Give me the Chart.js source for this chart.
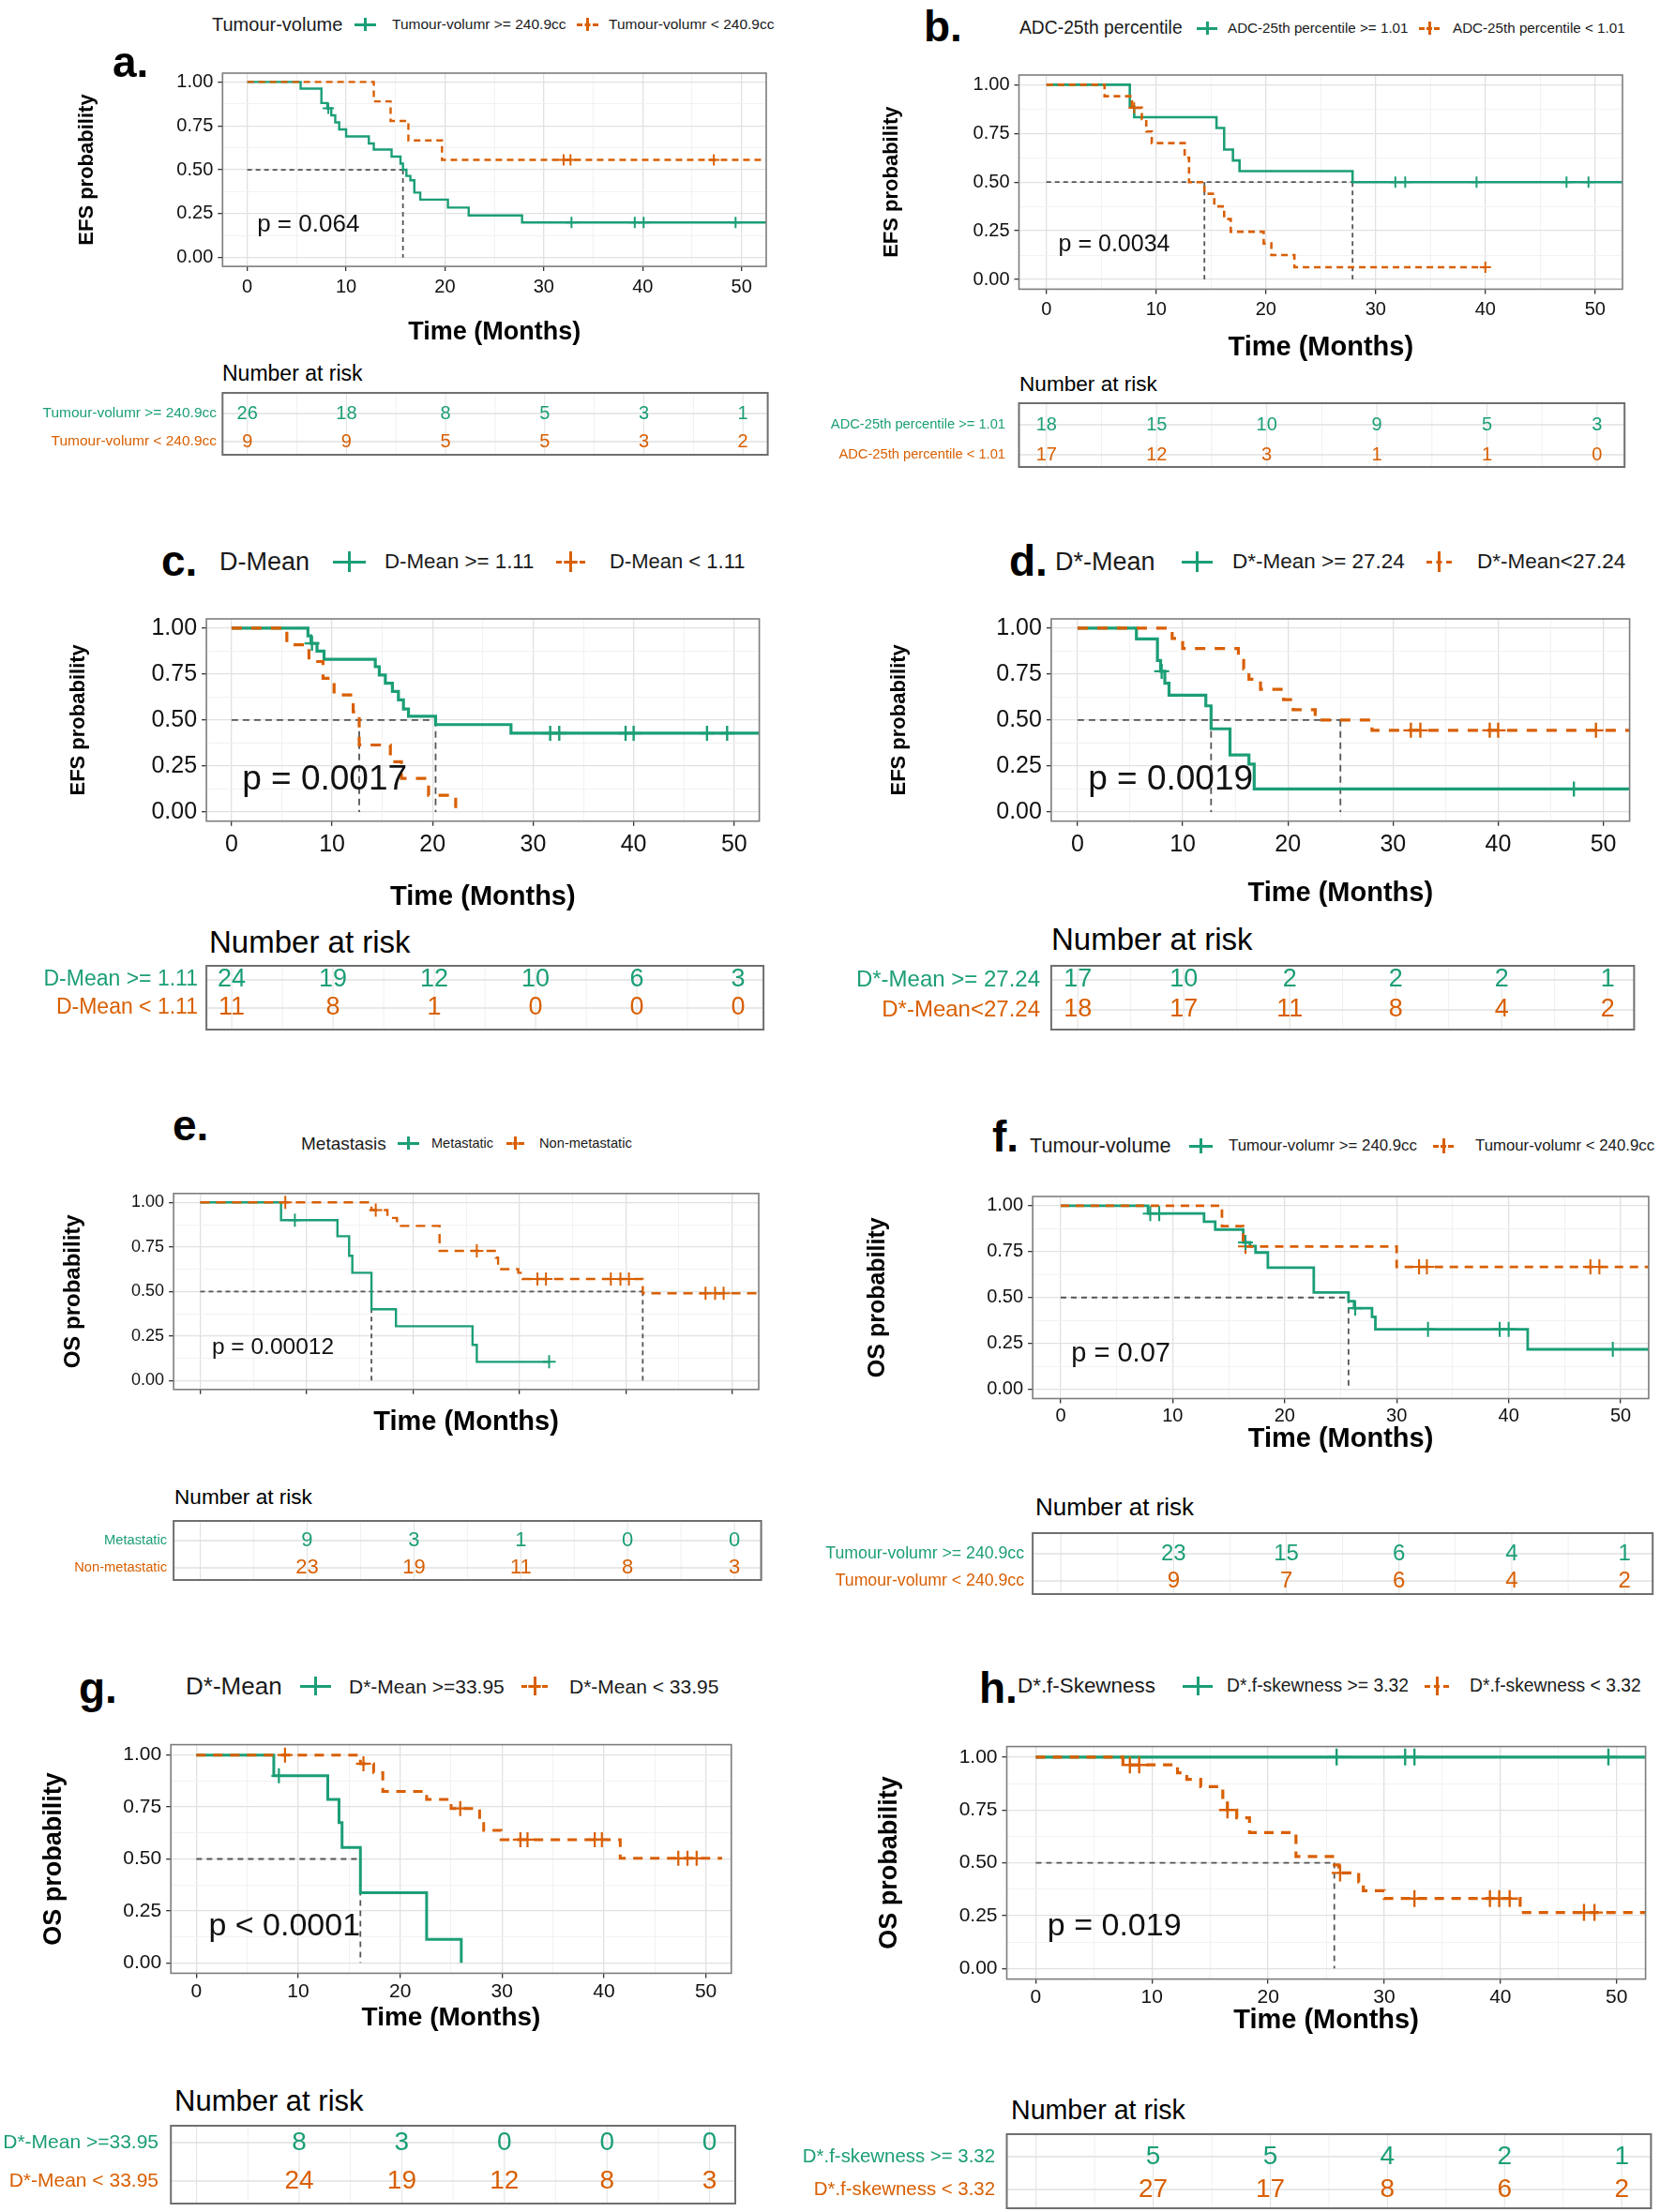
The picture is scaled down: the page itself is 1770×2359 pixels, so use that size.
<!DOCTYPE html>
<html><head><meta charset="utf-8"><title>Kaplan-Meier panels</title>
<script src="https://cdn.jsdelivr.net/npm/chart.js@4.4.1/dist/chart.umd.min.js"></script>
<style>
html,body{margin:0;padding:0;background:#fff}
#page{position:relative;width:1770px;height:2359px;overflow:hidden;background:#fff}
canvas{position:absolute;display:block}
</style></head><body><div id="page"></div>
<script>
// ---------------- DATA ----------------
const xAxisTicks = [0,5,10,15,20,25,30,35,40,45,50];
const xAxisLabelled = [0,10,20,30,40,50];
const yAxisTicks = [0,0.125,0.25,0.375,0.5,0.625,0.75,0.875,1];
const riskTimesAD = [0,10,20,30,40,50];
const riskTimesEH = [10,20,30,40,50];

// a
const aGreenTimes = [5.4,7.5,8.1,8.5,8.9,9.3,10.0,12.3,12.8,14.6,15.5,15.75,16.1,16.5,16.9,17.5,20.3,22.4,27.8];
const aGreenSurv  = [0.962,0.88,0.85,0.81,0.77,0.73,0.69,0.65,0.615,0.575,0.535,0.5,0.465,0.44,0.37,0.33,0.285,0.24,0.2];
const aGreenCensor = [8.2,32.8,39.2,40.1,49.4];
const aOrangeTimes = [12.8,14.5,16.3,19.7];
const aOrangeSurv  = [0.889,0.778,0.667,0.556];
const aOrangeCensor = [32.0,32.7,47.2];
const aLastFollowUp = [53,53];
const aMedians = [15.75];
const aRiskGreen = [26,18,8,5,3,1];
const aRiskOrange = [9,9,5,5,3,2];

// b
const bGreenTimes = [7.6,8.0,15.5,16.2,17.0,17.6,27.9];
const bGreenSurv  = [0.889,0.833,0.778,0.667,0.611,0.556,0.5];
const bGreenCensor = [31.8,32.7,39.2,47.4,49.4];
const bOrangeTimes = [5.3,7.8,8.7,9.1,9.6,12.6,13.0,14.4,15.3,16.2,16.8,19.8,20.5,22.6];
const bOrangeSurv  = [0.941,0.882,0.824,0.76,0.70,0.625,0.5,0.44,0.375,0.31,0.245,0.185,0.125,0.0625];
const bOrangeCensor = [8.0,40.0];
const bLastFollowUp = [53,40.0];
const bMedians = [14.4,27.9];
const bRiskGreen = [18,15,10,9,5,3];
const bRiskOrange = [17,12,3,1,1,0];

// c
const cGreenTimes = [7.6,7.9,8.5,9.2,14.3,14.7,15.3,16.0,16.6,17.1,17.6,20.3,27.8];
const cGreenSurv  = [0.958,0.917,0.875,0.83,0.79,0.745,0.70,0.655,0.61,0.56,0.52,0.475,0.428];
const cGreenCensor = [8.0,31.7,32.6,39.2,40.0,47.3,49.3];
const cOrangeTimes = [5.5,7.7,9.1,10.2,12.1,12.7,15.8,16.9,19.6,22.3];
const cOrangeSurv  = [0.909,0.818,0.727,0.636,0.545,0.364,0.273,0.182,0.091,0];
const cOrangeCensor = [];
const cLastFollowUp = [53,22.3];
const cMedians = [12.7,20.3];
const cRiskGreen = [24,19,12,10,6,3];
const cRiskOrange = [11,8,1,0,0,0];

// d
const dGreenTimes = [5.6,7.6,7.9,8.3,8.7,12.2,12.7,14.5,16.3,16.8];
const dGreenSurv  = [0.941,0.824,0.765,0.70,0.635,0.577,0.452,0.31,0.26,0.125];
const dGreenCensor = [8.0,47.2];
const dOrangeTimes = [9.0,10.0,15.3,15.8,16.3,17.4,19.6,20.5,22.6,28.0];
const dOrangeSurv  = [0.944,0.889,0.833,0.778,0.722,0.667,0.611,0.556,0.5,0.444];
const dOrangeCensor = [31.7,32.6,39.2,40.0,49.3];
const dLastFollowUp = [53,53];
const dMedians = [12.7,25.0];
const dRiskGreen = [17,10,2,2,2,1];
const dRiskOrange = [18,17,11,8,4,2];

// e
const eGreenTimes = [7.6,12.9,14.0,14.3,16.1,18.4,25.6,26.0];
const eGreenSurv  = [0.9,0.81,0.70,0.605,0.40,0.305,0.20,0.105];
const eGreenCensor = [8.9,32.8];
const eOrangeTimes = [16.1,17.6,18.5,22.5,27.8,28.0,29.9,30.3,41.6];
const eOrangeSurv  = [0.957,0.913,0.868,0.728,0.69,0.625,0.605,0.57,0.49];
const eOrangeCensor = [8.0,16.5,26.0,31.7,32.5,38.6,39.5,40.3,47.5,48.4,49.2];
const eLastFollowUp = [32.8,53];
const eMedians = [16.1,41.6];
const eRiskGreen = [9,3,1,0,0];
const eRiskOrange = [23,19,11,8,3];

// f
const fGreenTimes = [7.8,12.8,13.8,16.3,16.9,17.4,18.5,22.6,25.7,26.2,27.8,28.1,41.7];
const fGreenSurv  = [0.957,0.913,0.87,0.80,0.78,0.745,0.663,0.527,0.48,0.442,0.395,0.327,0.218];
const fGreenCensor = [8.0,8.8,16.5,26.3,32.8,39.2,40.0,49.3];
const fOrangeTimes = [14.4,16.3,30.0];
const fOrangeSurv  = [0.889,0.778,0.667];
const fOrangeCensor = [16.5,32.0,32.7,47.3,48.1];
const fLastFollowUp = [53,53];
const fMedians = [25.7];
const fRiskGreen = [23,15,6,4,1];
const fRiskOrange = [9,7,6,4,2];

// g
const gGreenTimes = [7.6,12.9,14.0,14.3,16.1,22.6,26.0];
const gGreenSurv  = [0.9,0.787,0.675,0.555,0.338,0.113,0];
const gGreenCensor = [8.1];
const gOrangeTimes = [16.1,17.4,18.3,22.6,25.0,27.8,28.2,29.9,41.6];
const gOrangeSurv  = [0.958,0.915,0.825,0.787,0.743,0.683,0.638,0.593,0.503];
const gOrangeCensor = [8.7,16.4,25.9,31.8,32.5,39.1,39.8,47.3,48.2,49.1];
const gLastFollowUp = [26.0,51.6];
const gMedians = [16.1];
const gRiskGreen = [8,3,0,0,0];
const gRiskOrange = [24,19,12,8,3];

// h
const hGreenTimes = [];
const hGreenSurv  = [];
const hGreenCensor = [25.9,31.8,32.6,49.3];
const hOrangeTimes = [7.5,12.2,13.0,14.2,16.1,16.5,17.3,18.4,22.4,25.7,26.1,27.8,28.2,30.0,41.7];
const hOrangeSurv  = [0.963,0.926,0.895,0.86,0.79,0.75,0.713,0.643,0.53,0.49,0.452,0.41,0.368,0.331,0.265];
const hOrangeCensor = [8.1,8.9,16.5,26.2,32.6,39.1,39.9,40.8,47.2,48.1];
const hLastFollowUp = [53,53];
const hMedians = [25.7];
const hRiskGreen = [5,5,4,2,1];
const hRiskOrange = [27,17,8,6,2];

// text
const panelLetters = ['a.','b.','c.','d.','e.','f.','g.','h.'];
const legendTitles = ['Tumour-volume','ADC-25th percentile','D-Mean','D*-Mean','Metastasis','Tumour-volume','D*-Mean','D*.f-Skewness'];
const groupNames = [
  ['Tumour-volumr >= 240.9cc','Tumour-volumr < 240.9cc'],
  ['ADC-25th percentile >= 1.01','ADC-25th percentile < 1.01'],
  ['D-Mean >= 1.11','D-Mean < 1.11'],
  ['D*-Mean >= 27.24','D*-Mean<27.24'],
  ['Metastatic','Non-metastatic'],
  ['Tumour-volumr >= 240.9cc','Tumour-volumr < 240.9cc'],
  ['D*-Mean >=33.95','D*-Mean < 33.95'],
  ['D*.f-skewness >= 3.32','D*.f-skewness < 3.32']
];
const yTitles = ['EFS probability','EFS probability','EFS probability','EFS probability','OS probability','OS probability','OS probability','OS probability'];
const pValues = ['p = 0.064','p = 0.0034','p = 0.0017','p = 0.0019','p = 0.00012','p = 0.07','p < 0.0001','p = 0.019'];

// ---------------- STYLE / LAYOUT ----------------
const FONT = "'Liberation Sans', Arial, Helvetica, sans-serif";
const GREEN = '#1B9E77', ORANGE = '#D95F02';
const MAJ = '#e1e1e1', MIN = '#f0f0f0';

const LAYOUT = [
 {plot:[237.3,76.9,818.6,284.1], yTitleX:93, xTitleY:355, tickFont:20, tickPad:5, showXLabels:true, xTitleFont:27, yTitleFont:22, lw:2.4, dash:[7,5], mdash:[5,4], cr:6, pFont:26, p:[1.0,0.186],
  letter:[120,66,46], legend:{y:26,title:[226,20],g1:[378,23],i1:[418,15.5],g2:[615,23],i2:[649,15.5],gh:14},
  table:{box:[237.3,419,818.6,485],rows:[441,471],title:[237,398,23],labelRight:231,labelFont:15.5,numFont:20}},
 {plot:[1086.5,79.3,1732.2,308.4], yTitleX:951, xTitleY:371, tickFont:20, tickPad:5, showXLabels:true, xTitleFont:29, yTitleFont:22, lw:2.6, dash:[7,5], mdash:[5,4], cr:6, pFont:25, p:[1.1,0.18],
  letter:[985,28,46], legend:{y:30,title:[1087,19.3],g1:[1276,22],i1:[1309,15.2],g2:[1513,22],i2:[1549,15.2],gh:14},
  table:{box:[1086.5,430,1732.2,498],rows:[453,485],title:[1087,410,22.6],labelRight:1072,labelFont:14.7,numFont:20}},
 {plot:[220.1,655.7,814.1,875.7], yTitleX:84, xTitleY:957, tickFont:25, tickPad:5, showXLabels:true, xTitleFont:29, yTitleFont:22, lw:3.2, dash:[11,10], mdash:[7,5], cr:8, pFont:37, p:[1.05,0.175],
  letter:[172,598,46], legend:{y:599,title:[234,27],g1:[355,35],i1:[410,22.3],g2:[593,31],i2:[650,22],gh:22},
  table:{box:[220.1,1030,814.1,1098],rows:[1045,1075],title:[223,1004,33],labelRight:211,labelFont:23,numFont:27}},
 {plot:[1120.9,656.3,1742.4,875.7], yTitleX:959, xTitleY:953, tickFont:25, tickPad:5, showXLabels:true, xTitleFont:29, yTitleFont:22, lw:3.2, dash:[11,10], mdash:[7,5], cr:8, pFont:37, p:[1.0,0.176],
  letter:[1076,598,46], legend:{y:599,title:[1125,27],g1:[1260,33],i1:[1314,22.5],g2:[1521,27],i2:[1575,22.5],gh:22},
  table:{box:[1120.9,1030,1742.4,1098],rows:[1045,1077],title:[1121,1001,33],labelRight:1109,labelFont:24,numFont:27}},
 {plot:[185.1,1272.8,811.6,1481.8], yTitleX:78, xTitleY:1517, tickFont:18, tickPad:5, showXLabels:false, xTitleFont:29, yTitleFont:24, lw:2.4, dash:[10,7], mdash:[5,4], cr:7, pFont:24.5, p:[1.1,0.184],
  letter:[184,1200,46], legend:{y:1219,title:[321,19],g1:[424,23],i1:[460,14.5],g2:[540,19],i2:[575,14.7],gh:14},
  table:{box:[185.1,1622,811.6,1685],rows:[1643,1672],title:[186,1597,22.6],labelRight:178,labelFont:14.7,numFont:22}},
 {plot:[1101.1,1275.2,1762.2,1491.5], yTitleX:936, xTitleY:1535, tickFont:20, tickPad:2, showXLabels:true, xTitleFont:29, yTitleFont:25, lw:2.8, dash:[9,7], mdash:[6,5], cr:8, pFont:29, p:[0.95,0.19],
  letter:[1058,1212,46], legend:{y:1222,title:[1098,21.6],g1:[1268,25],i1:[1310,16.8],g2:[1528,22],i2:[1573,16.8],gh:16},
  table:{box:[1101.1,1635,1762.2,1700],rows:[1657,1686],title:[1104,1607,26],labelRight:1092,labelFont:17.7,numFont:24}},
 {plot:[182.2,1859.2,784,2104.4], yTitleX:57, xTitleY:2152, tickFont:21, tickPad:2, showXLabels:true, xTitleFont:28, yTitleFont:27, lw:3, dash:[10,8], mdash:[6,5], cr:8, pFont:34, p:[1.2,0.176],
  letter:[84,1800,46], legend:{y:1798,title:[198,26],g1:[320,33],i1:[372,21],g2:[556,28],i2:[607,21],gh:20},
  table:{box:[182.2,2267,784,2350],rows:[2285,2326],title:[186,2240,31],labelRight:169,labelFont:21,numFont:28}},
 {plot:[1073.5,1861.4,1760.4,2110.6], yTitleX:948, xTitleY:2155, tickFont:21, tickPad:2, showXLabels:true, xTitleFont:29, yTitleFont:27, lw:3.2, dash:[10,8], mdash:[6,5], cr:9, pFont:34, p:[1.0,0.2],
  letter:[1044,1800,46], legend:{y:1798,title:[1085,22.4],g1:[1261,32],i1:[1308,19.3],g2:[1519,26],i2:[1567,19.3],gh:20},
  table:{box:[1073.5,2276,1760.4,2355],rows:[2300,2335],title:[1078,2250,28.6],labelRight:1061,labelFont:20.4,numFont:28}}
];

const PANELS = [
 {green:{t:aGreenTimes,s:aGreenSurv,c:aGreenCensor,end:aLastFollowUp[0]}, orange:{t:aOrangeTimes,s:aOrangeSurv,c:aOrangeCensor,end:aLastFollowUp[1]}, medians:aMedians, riskTimes:riskTimesAD, risk:[aRiskGreen,aRiskOrange]},
 {green:{t:bGreenTimes,s:bGreenSurv,c:bGreenCensor,end:bLastFollowUp[0]}, orange:{t:bOrangeTimes,s:bOrangeSurv,c:bOrangeCensor,end:bLastFollowUp[1]}, medians:bMedians, riskTimes:riskTimesAD, risk:[bRiskGreen,bRiskOrange]},
 {green:{t:cGreenTimes,s:cGreenSurv,c:cGreenCensor,end:cLastFollowUp[0]}, orange:{t:cOrangeTimes,s:cOrangeSurv,c:cOrangeCensor,end:cLastFollowUp[1]}, medians:cMedians, riskTimes:riskTimesAD, risk:[cRiskGreen,cRiskOrange]},
 {green:{t:dGreenTimes,s:dGreenSurv,c:dGreenCensor,end:dLastFollowUp[0]}, orange:{t:dOrangeTimes,s:dOrangeSurv,c:dOrangeCensor,end:dLastFollowUp[1]}, medians:dMedians, riskTimes:riskTimesAD, risk:[dRiskGreen,dRiskOrange]},
 {green:{t:eGreenTimes,s:eGreenSurv,c:eGreenCensor,end:eLastFollowUp[0]}, orange:{t:eOrangeTimes,s:eOrangeSurv,c:eOrangeCensor,end:eLastFollowUp[1]}, medians:eMedians, riskTimes:riskTimesEH, risk:[eRiskGreen,eRiskOrange]},
 {green:{t:fGreenTimes,s:fGreenSurv,c:fGreenCensor,end:fLastFollowUp[0]}, orange:{t:fOrangeTimes,s:fOrangeSurv,c:fOrangeCensor,end:fLastFollowUp[1]}, medians:fMedians, riskTimes:riskTimesEH, risk:[fRiskGreen,fRiskOrange]},
 {green:{t:gGreenTimes,s:gGreenSurv,c:gGreenCensor,end:gLastFollowUp[0]}, orange:{t:gOrangeTimes,s:gOrangeSurv,c:gOrangeCensor,end:gLastFollowUp[1]}, medians:gMedians, riskTimes:riskTimesEH, risk:[gRiskGreen,gRiskOrange]},
 {green:{t:hGreenTimes,s:hGreenSurv,c:hGreenCensor,end:hLastFollowUp[0]}, orange:{t:hOrangeTimes,s:hOrangeSurv,c:hOrangeCensor,end:hLastFollowUp[1]}, medians:hMedians, riskTimes:riskTimesEH, risk:[hRiskGreen,hRiskOrange]}
];

// ---------------- BUILD ----------------
const page = document.getElementById('page');
Chart.defaults.font.family = FONT;

function survAt(times, surv, t){ let s = 1; for (let i=0;i<times.length;i++){ if (times[i] <= t) s = surv[i]; } return s; }
function stepPoints(g){
  const pts = [{x:0,y:1}];
  g.t.forEach((t,i)=>pts.push({x:t,y:g.s[i]}));
  pts.push({x:g.end,y:g.s.length ? g.s[g.s.length-1] : 1});
  return pts;
}
function makeCanvas(left, top, w, h){
  const c = document.createElement('canvas');
  c.width = w; c.height = h;
  c.style.left = left+'px'; c.style.top = top+'px'; c.style.width = w+'px'; c.style.height = h+'px';
  page.appendChild(c); return c;
}
function addText(txt, left, cy, size, color, weight){
  const d = document.createElement('div');
  d.textContent = txt;
  d.style.cssText = 'position:absolute;left:'+left+'px;top:'+cy+'px;transform:translateY(-50%);font-size:'+size+'px;line-height:1;color:'+color+';font-weight:'+(weight||'normal')+';white-space:nowrap;font-family:'+FONT+';';
  page.appendChild(d);
}
function addGlyph(x, cy, w, h, color, dashed){
  const g = document.createElement('div');
  g.style.cssText = 'position:absolute;left:'+x+'px;top:'+(cy-h/2)+'px;width:'+w+'px;height:'+h+'px;';
  const hl = document.createElement('div');
  hl.style.cssText = 'position:absolute;left:0;top:'+(h/2-1.5)+'px;width:'+w+'px;height:0;border-top:3px '+(dashed?'dashed':'solid')+' '+color+';';
  const vl = document.createElement('div');
  vl.style.cssText = 'position:absolute;left:'+(w/2-1.5)+'px;top:0;width:0;height:'+h+'px;border-left:3px solid '+color+';';
  g.appendChild(hl); g.appendChild(vl); page.appendChild(g);
}

const isMajorX = ctx => ctx.tick && xAxisLabelled.includes(ctx.tick.value);
const isMajorY = ctx => ctx.tick && Math.abs(ctx.tick.value*4 - Math.round(ctx.tick.value*4)) < 1e-9;

const panelDeco = {
  id:'panelDeco',
  afterDatasetsDraw(chart, args, o){
    const {ctx, chartArea:a, scales:{x,y}} = chart;
    ctx.save();
    ctx.fillStyle = '#111';
    ctx.font = o.pFont+'px '+FONT;
    ctx.textAlign = 'left'; ctx.textBaseline = 'middle';
    ctx.fillText(o.pText, x.getPixelForValue(o.pX), y.getPixelForValue(o.pY));
    ctx.strokeStyle = '#7d7d7d'; ctx.lineWidth = 1.6;
    ctx.strokeRect(a.left, a.top, a.right-a.left, a.bottom-a.top);
    ctx.restore();
  }
};

const riskDeco = {
  id:'riskDeco',
  beforeDatasetsDraw(chart, args, o){
    const {ctx, chartArea:a, scales:{x,y}} = chart;
    ctx.save();
    ctx.lineWidth = 1;
    xAxisTicks.forEach(v=>{ const px = x.getPixelForValue(v); ctx.strokeStyle = xAxisLabelled.includes(v) ? MAJ : MIN; ctx.beginPath(); ctx.moveTo(px,a.top); ctx.lineTo(px,a.bottom); ctx.stroke(); });
    [0,1].forEach(r=>{ const py = y.getPixelForValue(r); ctx.strokeStyle = MAJ; ctx.lineWidth = 1.5; ctx.beginPath(); ctx.moveTo(a.left,py); ctx.lineTo(a.right,py); ctx.stroke(); });
    ctx.restore();
  },
  afterDatasetsDraw(chart, args, o){
    const {ctx, chartArea:a, scales:{y}} = chart;
    ctx.save();
    ctx.strokeStyle = '#6f6f6f'; ctx.lineWidth = 2;
    ctx.strokeRect(a.left, a.top, a.right-a.left, a.bottom-a.top);
    ctx.textAlign = 'center'; ctx.textBaseline = 'middle';
    ctx.font = o.numFont+'px '+FONT;
    chart.data.datasets.forEach((ds, r)=>{
      const meta = chart.getDatasetMeta(r);
      ctx.fillStyle = ds.textColor;
      meta.data.forEach((el,i)=> ctx.fillText(String(ds.data[i].n), el.x, el.y));
    });
    ctx.textAlign = 'right';
    ctx.font = o.labelFont+'px '+FONT;
    o.labels.forEach((lab,r)=>{ ctx.fillStyle = r===0?GREEN:ORANGE; ctx.fillText(lab, o.labelRight, y.getPixelForValue(r)); });
    ctx.restore();
  }
};

function buildPlot(i){
  const P = PANELS[i], Lo = LAYOUT[i];
  const [L,T,R,B] = Lo.plot;
  const yLh = Lo.yTitleFont*1.2, xLh = Lo.xTitleFont*1.2;
  const cLeft = Math.round(Lo.yTitleX - yLh/2);
  const cTop = Math.round(T - 16);
  const cRight = Math.round(R + 6);
  const cBottom = Math.round(Lo.xTitleY + xLh/2);
  const yW = L - cLeft, pt = T - cTop, pr = cRight - R, xH = cBottom - B;
  const canvas = makeCanvas(cLeft, cTop, cRight-cLeft, cBottom-cTop);

  const datasets = [];
  [['green',GREEN],['orange',ORANGE]].forEach(([k,col])=>{
    const g = P[k];
    datasets.push({type:'scatter', order:0, data:g.c.map(t=>({x:t,y:survAt(g.t,g.s,t)})),
      pointStyle:'cross', pointRadius:Lo.cr, pointBorderWidth:Math.max(2,Lo.lw*0.75), borderColor:col, backgroundColor:col});
  });
  datasets.push({type:'line', order:1, data:stepPoints(P.orange), stepped:true, borderColor:ORANGE, borderWidth:Lo.lw, borderDash:Lo.dash, pointRadius:0, fill:false, showLine:true});
  datasets.push({type:'line', order:2, data:stepPoints(P.green), stepped:true, borderColor:GREEN, borderWidth:Lo.lw, pointRadius:0, fill:false, showLine:true});
  const maxMed = Math.max(...P.medians);
  const medStyle = {type:'line', order:3, borderColor:'#555', borderWidth:1.8, borderDash:Lo.mdash, pointRadius:0, fill:false, showLine:true};
  datasets.push(Object.assign({data:[{x:0,y:0.5},{x:maxMed,y:0.5}]}, medStyle));
  P.medians.forEach(m=>datasets.push(Object.assign({data:[{x:m,y:0.5},{x:m,y:0}]}, medStyle)));

  new Chart(canvas, {
    type:'scatter',
    data:{datasets},
    plugins:[panelDeco],
    options:{
      animation:false, responsive:false, devicePixelRatio:1, events:[],
      layout:{padding:{top:pt,right:pr,left:0,bottom:0}},
      plugins:{legend:{display:false}, tooltip:{enabled:false},
        panelDeco:{pText:pValues[i], pX:Lo.p[0], pY:Lo.p[1], pFont:Lo.pFont}},
      scales:{
        x:{type:'linear', position:'bottom', min:-2.5, max:52.5,
          afterBuildTicks:s=>{ s.ticks = xAxisTicks.map(v=>({value:v})); },
          afterFit:s=>{ s.height = xH; },
          ticks:{autoSkip:false, maxRotation:0, minRotation:0, padding:Lo.tickPad, color:'#111', font:{size:Lo.tickFont},
            callback:v=> (Lo.showXLabels && xAxisLabelled.includes(v)) ? String(v) : ''},
          grid:{drawTicks:true, tickLength:5, color:c=>isMajorX(c)?MAJ:MIN, lineWidth:c=>isMajorX(c)?1.3:0.9,
            tickColor:c=>isMajorX(c)?'#333':'rgba(0,0,0,0)', tickWidth:1.3},
          border:{display:false},
          title:{display:true, text:'Time (Months)', color:'#000', font:{size:Lo.xTitleFont, weight:'bold'}, padding:0}},
        y:{type:'linear', position:'left', min:-0.05, max:1.05,
          afterBuildTicks:s=>{ s.ticks = yAxisTicks.map(v=>({value:v})); },
          afterFit:s=>{ s.width = yW; },
          ticks:{autoSkip:false, padding:5, color:'#111', font:{size:Lo.tickFont},
            callback:v=> (Math.abs(v*4-Math.round(v*4))<1e-9) ? v.toFixed(2) : ''},
          grid:{drawTicks:true, tickLength:5, color:c=>isMajorY(c)?MAJ:MIN, lineWidth:c=>isMajorY(c)?1.3:0.9,
            tickColor:c=>isMajorY(c)?'#333':'rgba(0,0,0,0)', tickWidth:1.3},
          border:{display:false},
          title:{display:true, text:yTitles[i], color:'#000', font:{size:Lo.yTitleFont, weight:'bold'}, padding:0}}
      }
    }
  });
}

function buildRisk(i){
  const P = PANELS[i], t = LAYOUT[i].table;
  const [bl,bt,br,bb] = t.box;
  const cLeft = bl < 885 ? 0 : 840;
  const cTop = Math.round(bt-4), cRight = Math.round(br+4), cBottom = Math.round(bb+4);
  const canvas = makeCanvas(cLeft, cTop, cRight-cLeft, cBottom-cTop);
  const unit = t.rows[1]-t.rows[0];
  const yMin = -(t.rows[0]-bt)/unit, yMax = 1 + (bb-t.rows[1])/unit;
  const datasets = P.risk.map((row,r)=>({data:P.riskTimes.map((tm,k)=>({x:tm,y:r,n:row[k]})), pointRadius:0, textColor:r===0?GREEN:ORANGE}));
  new Chart(canvas, {
    type:'scatter',
    data:{datasets},
    plugins:[riskDeco],
    options:{
      animation:false, responsive:false, devicePixelRatio:1, events:[],
      layout:{padding:{left:bl-cLeft, top:bt-cTop, right:cRight-br, bottom:cBottom-bb}},
      plugins:{legend:{display:false}, tooltip:{enabled:false},
        riskDeco:{numFont:t.numFont, labelFont:t.labelFont, labelRight:t.labelRight-cLeft, labels:groupNames[i]}},
      scales:{x:{type:'linear', display:false, min:-2.5, max:52.5}, y:{type:'linear', display:false, min:yMin, max:yMax, reverse:true}}
    }
  });
  addText('Number at risk', t.title[0], t.title[1], t.title[2], '#000', 'normal');
}

function buildDecor(i){
  const Lo = LAYOUT[i], lg = Lo.legend;
  addText(panelLetters[i], Lo.letter[0], Lo.letter[1], Lo.letter[2], '#000', 'bold');
  addText(legendTitles[i], lg.title[0], lg.y, lg.title[1], '#1a1a1a');
  addGlyph(lg.g1[0], lg.y, lg.g1[1], lg.gh, GREEN, false);
  addText(groupNames[i][0], lg.i1[0], lg.y, lg.i1[1], '#1a1a1a');
  addGlyph(lg.g2[0], lg.y, lg.g2[1], lg.gh, ORANGE, true);
  addText(groupNames[i][1], lg.i2[0], lg.y, lg.i2[1], '#1a1a1a');
}

for (let i=0;i<8;i++){ buildPlot(i); buildRisk(i); buildDecor(i); }
</script></body></html>
